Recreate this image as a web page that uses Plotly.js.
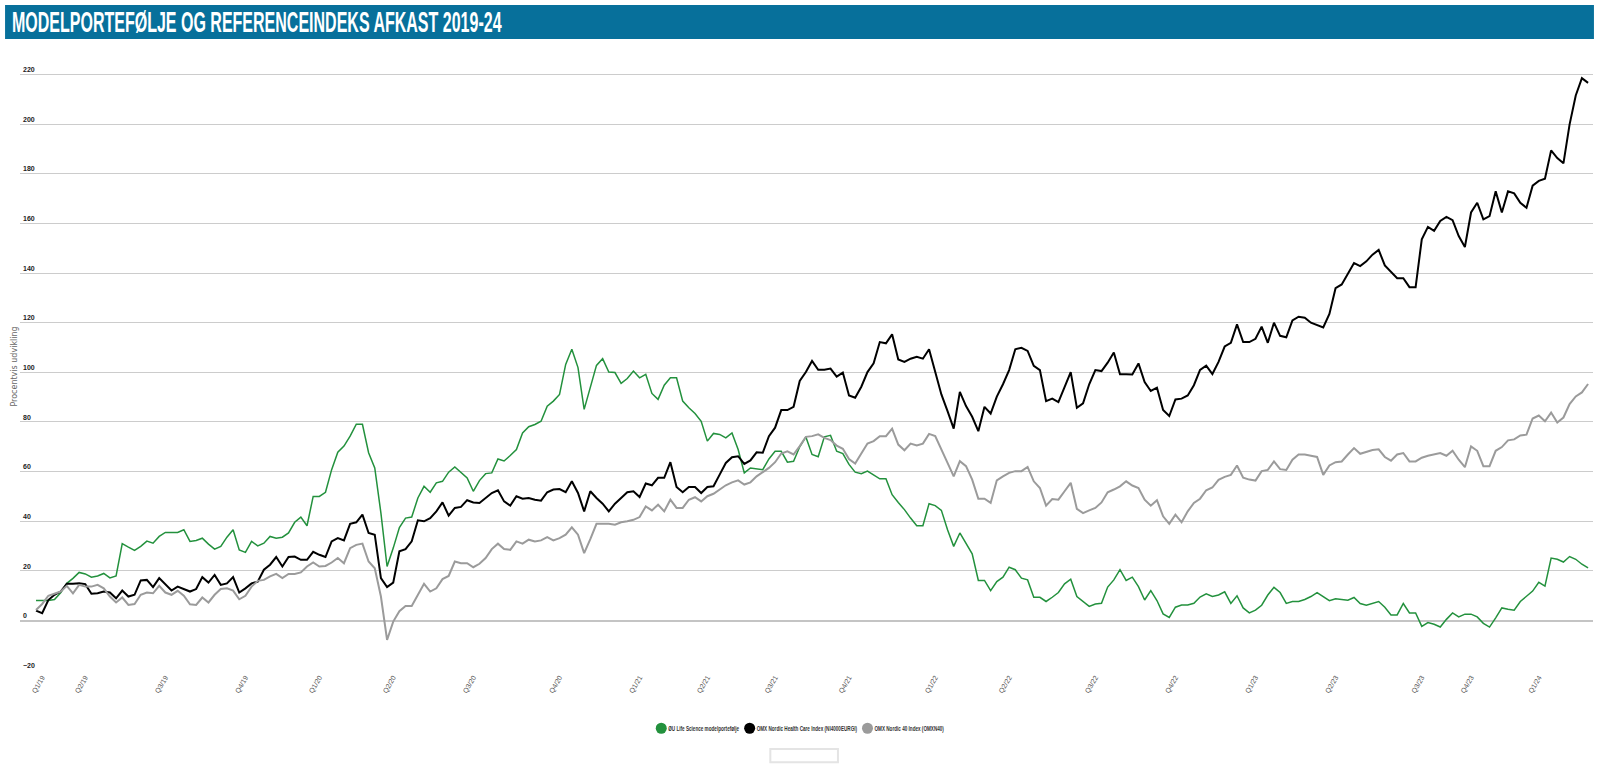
<!DOCTYPE html>
<html>
<head>
<meta charset="utf-8">
<script src="https://cdn.plot.ly/plotly-3.0.1.min.js"></script>
<style>
html,body{margin:0;padding:0;background:#ffffff;}
#chart{width:1598px;height:769px;}
</style>
</head>
<body>
<div id="chart"></div>
<script>
// ---- DATA (weekly observations, percent development) ----
const chartTitle = 'MODELPORTEFØLJE OG REFERENCEINDEKS AFKAST 2019-24';
const yAxisTitle = 'Procentvis udvikling';
const seriesNames = [
  'ØU Life Science modelportefølje',
  'OMX Nordic Health Care Index (NI4000EURGI)',
  'OMX Nordic 40 Index (OMXN40)'
];
const tickPositions = [1, 8, 21, 34, 46, 58, 71, 85, 98, 109, 120, 132, 146, 158, 172, 185, 198, 211, 225, 233, 244];
const tickLabels = ['Q1/19','Q2/19','Q3/19','Q4/19','Q1/20','Q2/20','Q3/20','Q4/20','Q1/21','Q2/21','Q3/21','Q4/21','Q1/22','Q2/22','Q3/22','Q4/22','Q1/23','Q2/23','Q3/23','Q4/23','Q1/24'];
const yTicks = [-20, 0, 20, 40, 60, 80, 100, 120, 140, 160, 180, 200, 220];

const modelPortfolio = [
  8.1, 8.1, 8.1, 8.5, 11.2, 15, 17, 19.4, 18.8, 17.5,
  18, 19, 17.2, 18, 31, 29.6, 28.3, 29.9, 32, 31.2,
  33.9, 35.5, 35.5, 35.5, 36.6, 31.9, 32.3, 33.2, 30.8, 28.8,
  29.9, 33.6, 36.6, 28.5, 27.5, 31.9, 30.1, 31.2, 33.9, 33.2,
  33.6, 35.3, 39.6, 41.7, 38.2, 50, 50, 51.7, 60.8, 67.8,
  70.3, 74.3, 79.1, 79.1, 67.6, 61.5, 43.3, 21.8, 29.2, 37.5,
  41.3, 41.7, 49.4, 54.1, 51.7, 55.5, 56.1, 59.8, 61.9, 59.8,
  57.5, 52.1, 56.4, 59.2, 59.5, 65.1, 64.3, 66.5, 68.9, 75.6,
  78.1, 79, 80.3, 86.4, 88.4, 91.1, 103.2, 109.3, 101.9, 85.1,
  93.8, 102.8, 105.5, 100.1, 99.9, 95.6, 97.5, 100.5, 97.8, 99.2,
  91.5, 89.1, 94.8, 97.8, 97.8, 88.4, 85.7, 83.4, 80.3, 72.3,
  75.4, 75, 73.6, 75.6, 68.9, 59.5, 61.5, 61.1, 60.8, 65.1,
  68.2, 68.2, 63.8, 64.2, 70, 74, 66.9, 66, 74, 74.6,
  68.2, 67.3, 62.9, 59.8, 59.2, 60.2, 58.8, 57.1, 57.1, 50.7,
  47.6, 44.7, 41.3, 38.2, 38.2, 47.1, 46.3, 44.4, 36.6, 29.9,
  35.3, 31.2, 26.9, 16.2, 16.2, 12.1, 15.7, 17.5, 21.5, 20.5,
  17.1, 16.4, 9.4, 9.4, 7.7, 9.4, 11.3, 14.8, 16.7, 9.7,
  7.7, 5.7, 6.7, 7, 13.5, 16.4, 20.5, 16.2, 17.5, 13.7,
  8.3, 12.1, 8.1, 2.7, 1.3, 5.4, 6.3, 6.3, 7, 9.5,
  10.8, 9.7, 10.3, 11.6, 6.9, 10, 5.1, 3.1, 4.2, 6.2,
  10.3, 13.4, 11.3, 6.9, 7.7, 7.7, 8.5, 9.7, 11.3, 9.7,
  8, 8.8, 8.5, 8.2, 9.3, 6.9, 6.2, 6.9, 7.7, 5.4,
  2.3, 2.3, 6.9, 3.1, 3.1, -2.3, -0.8, -1.5, -2.6, 0.5,
  3.1, 1.5, 2.6, 2.6, 1.5, -1.1, -2.6, 1.1, 5.1, 4.6,
  4.2, 7.7, 9.7, 11.9, 15.4, 13.9, 25.2, 24.7, 23.6, 25.8,
  24.7, 22.7, 21.2
];

const healthCareIndex = [
  4, 3, 8.3, 10.4, 11.7, 14.8, 14.8, 15, 14.7, 10.8,
  11, 11.7, 11.3, 9, 12.1, 9.7, 10.4, 16.2, 16.4, 13.5,
  17.1, 14.4, 12.1, 13.7, 12.7, 11.7, 12.7, 17.5, 15.3, 18.4,
  14.4, 15, 17.5, 11.3, 13, 15, 15.7, 20.5, 22.5, 25.6,
  21.8, 25.6, 25.8, 24.5, 24.5, 27.7, 26.5, 25.6, 31.9, 33.2,
  32.3, 39, 39.6, 42.7, 35.3, 34.6, 17.1, 13.5, 15.3, 27.9,
  28.8, 31.9, 40.4, 40, 41.3, 44, 47.6, 42.3, 45.4, 45.8,
  48.5, 47.6, 47.4, 49.4, 51.4, 52.5, 48, 46.3, 50.1, 49.1,
  49.4, 48.7, 48.3, 51.7, 52.8, 53, 51.7, 56.1, 51.4, 44,
  52.1, 49.4, 47.1, 44, 47.1, 49.4, 51.7, 52.1, 49.8, 55.2,
  54.5, 57.5, 57.5, 63.8, 53.8, 51.7, 53.8, 53.8, 51.4, 53.8,
  54.1, 58.8, 63.5, 65.8, 66.2, 63.1, 64.5, 67.8, 67.6, 74.3,
  77.7, 84.8, 84.8, 86.1, 96.5, 100.1, 104.6, 101, 101, 101.5,
  98.3, 99.9, 90.7, 89.8, 94.2, 100.1, 103.6, 112.2, 111.7, 115.3,
  105.2, 104.2, 105.5, 106.3, 105.5, 109.3, 100.1, 91.1, 84.4, 77.3,
  92.1, 86.4, 82.1, 76.3, 86.1, 83.4, 90.2, 95.2, 100.9, 109.3,
  109.9, 108.6, 102.6, 100.9, 88.4, 89.4, 88, 94.2, 100.1, 85.7,
  87.5, 95.2, 100.9, 100.5, 103.9, 108, 99.2, 99.2, 99.1, 103.6,
  96.1, 92.5, 93.8, 84.8, 82.4, 89.1, 89.4, 90.7, 94.8, 101,
  102.7, 99.3, 104.2, 110.4, 111.9, 119.3, 112.2, 112.2, 113.5, 118.4,
  111.9, 120, 114.7, 114.1, 120.9, 122.4, 122, 120, 118.9, 118.1,
  123.5, 133.9, 135.4, 140, 144, 142.8, 144.7, 147.4, 149.3, 143.1,
  140.5, 137.9, 137.9, 134.3, 134.3, 153.6, 158.6, 157, 161, 162.6,
  161.3, 154.9, 150.5, 164.4, 168.3, 161.6, 162.9, 172.9, 164.4, 172.9,
  172.1, 168.3, 166.3, 175.2, 177.1, 178, 189.4, 186.3, 184.2, 199.9,
  211.5, 218.5, 216.6
];

const nordic40Index = [
  4.3, 6.7, 10, 10.8, 11.7, 14, 11, 14.4, 13.7, 13.7,
  14.4, 13, 9.7, 7.3, 9.3, 6.3, 6.7, 10.4, 11.3, 11,
  14, 11.3, 10.4, 12, 10, 6.6, 6.3, 9.3, 7.3, 10.4,
  12.7, 13, 12.1, 8.6, 10, 13.7, 16, 16.4, 17.8, 18.8,
  17.1, 18.8, 18.8, 19.4, 21.8, 23.4, 21.8, 22, 23.4, 25.2,
  23.1, 29.2, 30.5, 31, 23.8, 21.1, 9.7, -7.8, -0.4, 3.8,
  5.9, 5.9, 10.4, 14.8, 11.7, 13, 16.7, 18, 23.8, 23.1,
  23.1, 21.5, 22.9, 25.2, 28.8, 31, 28.8, 28.5, 31.9, 31,
  32.6, 31.9, 32.3, 33.6, 32.3, 33.2, 34.6, 37.6, 34.6, 27.2,
  32.8, 39, 39, 39, 38.6, 39.6, 40, 40.6, 41.7, 46,
  44.4, 46.7, 44, 48.7, 45.4, 45.4, 48.7, 49.7, 48, 50.1,
  51.1, 52.8, 54.5, 55.7, 56.5, 54.8, 55.7, 58.1, 59.8, 61.5,
  63.8, 67.3, 68.2, 66.9, 70.3, 74, 74.3, 75, 73.6, 72.7,
  70.5, 69.2, 65.1, 63.3, 67.3, 71.3, 72.3, 74.3, 74.3, 77.3,
  70.9, 68.6, 71.3, 70.5, 71.3, 75.2, 74.3, 69.2, 63.5, 58.1,
  64.2, 62.2, 56.8, 49.1, 49.1, 47.4, 56.5, 58.1, 59.5, 60.2,
  60.2, 61.9, 56.1, 53.4, 46.3, 49, 48.7, 52.1, 55.5, 45,
  43.3, 44.4, 45.4, 47.6, 51.7, 52.8, 54.1, 56.1, 54.4, 53.4,
  48.7, 46.3, 48.5, 42, 39, 42.7, 39.6, 44, 47.4, 49.1,
  52.5, 53.6, 56.7, 57.9, 58.7, 62.5, 57.6, 56.8, 56.4, 60.2,
  60.7, 64.1, 61, 60.7, 64.8, 66.9, 66.9, 66.4, 65.9, 58.7,
  62.5, 63.8, 64.1, 66.9, 69.5, 67.2, 67.9, 68.7, 69, 65.9,
  64.4, 66.9, 67.5, 64.1, 64.1, 65.6, 66.4, 66.9, 67.5, 66.4,
  68.4, 64.8, 61.8, 70.2, 68.4, 62.2, 62.2, 68.4, 69.9, 72.6,
  73, 74.6, 74.9, 81.4, 82.6, 80.3, 83.8, 79.8, 81.8, 87.2,
  90.3, 91.9, 95.3
];

// ---- STYLE ----
const colors = ['#23913d', '#000000', '#9b9b9b'];
const widths = [1.5, 2, 2];
const seriesValues = [modelPortfolio, healthCareIndex, nordic40Index];

const traces = [];
seriesValues.forEach((vals, k) => {
  traces.push({
    type: 'scatter', mode: 'lines', y: vals,
    line: {color: colors[k], width: widths[k]},
    name: seriesNames[k], showlegend: false, hoverinfo: 'skip'
  });
});
// legend entries drawn as round markers
seriesNames.forEach((nm, k) => {
  traces.push({
    type: 'scatter', mode: 'markers', x: [null], y: [null],
    marker: {color: colors[k], size: 11, symbol: 'circle'},
    name: nm, showlegend: true
  });
});

const narrow = '"Liberation Sans Narrow", "Liberation Sans", Arial, sans-serif';
const nPts = modelPortfolio.length;

const layout = {
  width: 1598, height: 769,
  paper_bgcolor: '#ffffff', plot_bgcolor: '#ffffff',
  margin: {l: 20, r: 5, t: 62, b: 98},
  title: {
    text: chartTitle,
    font: {family: narrow, size: 29, color: '#ffffff', weight: 700},
    xref: 'container', yref: 'container', x: 0.0075, xanchor: 'left',
    y: 1 - 22 / 769, yanchor: 'middle'
  },
  shapes: [
    {type: 'rect', xref: 'paper', yref: 'paper', x0: -0.0095, x1: 1.0006, y0: 1.0378, y1: 1.0938,
     fillcolor: '#07709b', line: {width: 0}, layer: 'below'},
    {type: 'rect', xref: 'paper', yref: 'paper', x0: 0.477, x1: 0.520, y0: -0.128, y1: -0.150,
     fillcolor: 'rgba(0,0,0,0)', line: {color: '#e4e4e4', width: 2}}
  ],
  xaxis: {
    range: [-2.6, nPts - 1 + 0.8],
    showgrid: false, zeroline: false, showline: false,
    tickmode: 'array', tickvals: tickPositions, ticktext: tickLabels,
    tickangle: -60, ticks: '',
    tickfont: {family: narrow, size: 7, color: '#555555'}
  },
  yaxis: {
    range: [-20.3, 225],
    tickmode: 'array', tickvals: yTicks,
    ticklabelposition: 'inside top',
    showgrid: true, gridcolor: '#cccccc', gridwidth: 1,
    zeroline: true, zerolinecolor: '#c4c4c4', zerolinewidth: 2,
    showline: false, ticks: '',
    tickfont: {family: narrow, size: 7, color: '#222222', weight: 700},
    title: {text: yAxisTitle, font: {family: '"DejaVu Sans", Arial, sans-serif', size: 8, color: '#666666'}, standoff: 4}
  },
  legend: {
    orientation: 'h', x: 0.496, xanchor: 'center', y: -0.094, yanchor: 'middle',
    font: {family: narrow, size: 8, color: '#333333', weight: 700},
    itemwidth: 30, bgcolor: 'rgba(0,0,0,0)'
  },
  showlegend: true
};

function condenseTitle() {
  const t = document.querySelector('.gtitle');
  if (!t) return;
  const bb = t.getBBox();
  const sx = 490 / bb.width;
  t.setAttribute('transform', 'translate(' + (12 - sx * bb.x) + ',0) scale(' + sx + ',1)');
}

function condenseLegend() {
  const groups = Array.from(document.querySelectorAll('.legend .traces'));
  if (!groups.length) return;
  const info = groups.map(g => {
    const txt = g.querySelector('.legendtext');
    const pts = g.querySelector('.legendpoints');
    return {g: g, txt: txt, tr: txt.getBoundingClientRect(), pr: pts.getBoundingClientRect()};
  });
  const targetTextSum = 242;
  const measured = info.reduce((a, o) => a + o.tr.width, 0);
  const s = targetTextSum / measured;
  const gapMT = 7, gapTM = 10, rad = 5.5, centre = 800;
  const ws = info.map(o => o.tr.width * s);
  let total = rad;
  ws.forEach((w, k) => { total += gapMT + w; if (k < ws.length - 1) total += gapTM; });
  let x = centre - total / 2 + rad;
  info.forEach((o, k) => {
    const mx = o.pr.left + o.pr.width / 2;
    const dx = x - mx;
    const m = /translate\(\s*([-\d.e]+)[ ,]+([-\d.e]+)\s*\)/.exec(o.g.getAttribute('transform') || '');
    const gx = m ? parseFloat(m[1]) : 0, gy = m ? parseFloat(m[2]) : 0;
    o.g.setAttribute('transform', 'translate(' + (gx + dx) + ',' + gy + ')');
    const tx = parseFloat(o.txt.getAttribute('x')) || 0;
    const d = (o.tr.left + dx) - (x + gapMT);
    o.txt.setAttribute('transform', 'translate(' + (tx * (1 - s) - d) + ',0) scale(' + s + ',1)');
    x += gapMT + ws[k] + gapTM;
  });
}

Plotly.newPlot('chart', traces, layout, {displayModeBar: false, staticPlot: true}).then(() => {
  condenseTitle();
  condenseLegend();
});
</script>
</body>
</html>
